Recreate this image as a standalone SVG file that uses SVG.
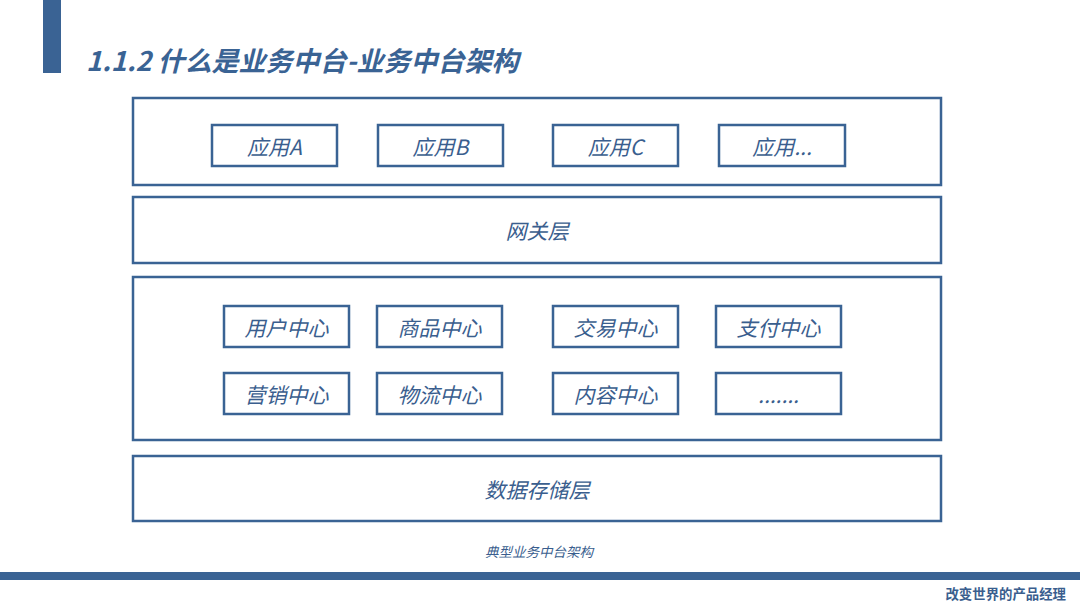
<svg xmlns="http://www.w3.org/2000/svg" width="1080" height="607" viewBox="0 0 1080 607">
<style>
.frame{fill:#fff;stroke:#3A6394;stroke-width:2.5}
.lbl{font-family:"Noto Sans CJK SC","Liberation Sans",sans-serif;font-style:italic;font-size:21px;fill:#3A5E8E;text-anchor:middle;dominant-baseline:central}
</style>
<rect width="1080" height="607" fill="#fff"/>
<rect x="43" y="0" width="18" height="73" fill="#3A6394"/>
<text x="86" y="71" font-family="Noto Sans CJK SC,Liberation Sans,sans-serif" font-weight="bold" font-style="italic" font-size="27" fill="#3A6394">1.1.2 什么是业务中台-业务中台架构</text>
<rect x="0" y="572" width="1080" height="8" fill="#3A6394"/>
<text x="1066" y="599" font-family="Noto Sans CJK SC,Liberation Sans,sans-serif" font-weight="bold" font-size="13.4" fill="#3A5E8E" text-anchor="end">改变世界的产品经理</text>
<text x="539" y="557" font-family="Noto Sans CJK SC,Liberation Sans,sans-serif" font-style="italic" font-size="13.5" fill="#3A5E8E" text-anchor="middle">典型业务中台架构</text>
<g id="app-layer"><rect class="frame" x="133" y="98" width="808" height="87"/></g>
<g id="app-a"><rect class="frame" x="212" y="125" width="125" height="41"/><text class="lbl" x="274.5" y="145.5">应用A</text></g>
<g id="app-b"><rect class="frame" x="378" y="125" width="125" height="41"/><text class="lbl" x="440.5" y="145.5">应用B</text></g>
<g id="app-c"><rect class="frame" x="553" y="125" width="125" height="41"/><text class="lbl" x="615.5" y="145.5">应用C</text></g>
<g id="app-more"><rect class="frame" x="719" y="125" width="126" height="41"/><text class="lbl" x="782" y="145.5">应用...</text></g>
<g id="gateway"><rect class="frame" x="133" y="197" width="808" height="66"/><text class="lbl" x="537" y="230">网关层</text></g>
<g id="center-layer"><rect class="frame" x="133" y="277" width="808" height="163"/></g>
<g id="user"><rect class="frame" x="224" y="306" width="125" height="41"/><text class="lbl" x="286.5" y="326.5">用户中心</text></g>
<g id="goods"><rect class="frame" x="377" y="306" width="125" height="41"/><text class="lbl" x="439.5" y="326.5">商品中心</text></g>
<g id="trade"><rect class="frame" x="553" y="306" width="125" height="41"/><text class="lbl" x="615.5" y="326.5">交易中心</text></g>
<g id="pay"><rect class="frame" x="716" y="306" width="125" height="41"/><text class="lbl" x="778.5" y="326.5">支付中心</text></g>
<g id="marketing"><rect class="frame" x="224" y="373" width="125" height="41"/><text class="lbl" x="286.5" y="393.5">营销中心</text></g>
<g id="logistics"><rect class="frame" x="377" y="373" width="125" height="41"/><text class="lbl" x="439.5" y="393.5">物流中心</text></g>
<g id="content"><rect class="frame" x="553" y="373" width="125" height="41"/><text class="lbl" x="615.5" y="393.5">内容中心</text></g>
<g id="more"><rect class="frame" x="716" y="373" width="125" height="41"/><text class="lbl" x="778.5" y="393.5">.......</text></g>
<g id="storage"><rect class="frame" x="133" y="456" width="808" height="65"/><text class="lbl" x="537" y="489">数据存储层</text></g>
<g id="connectors"></g>
</svg>
